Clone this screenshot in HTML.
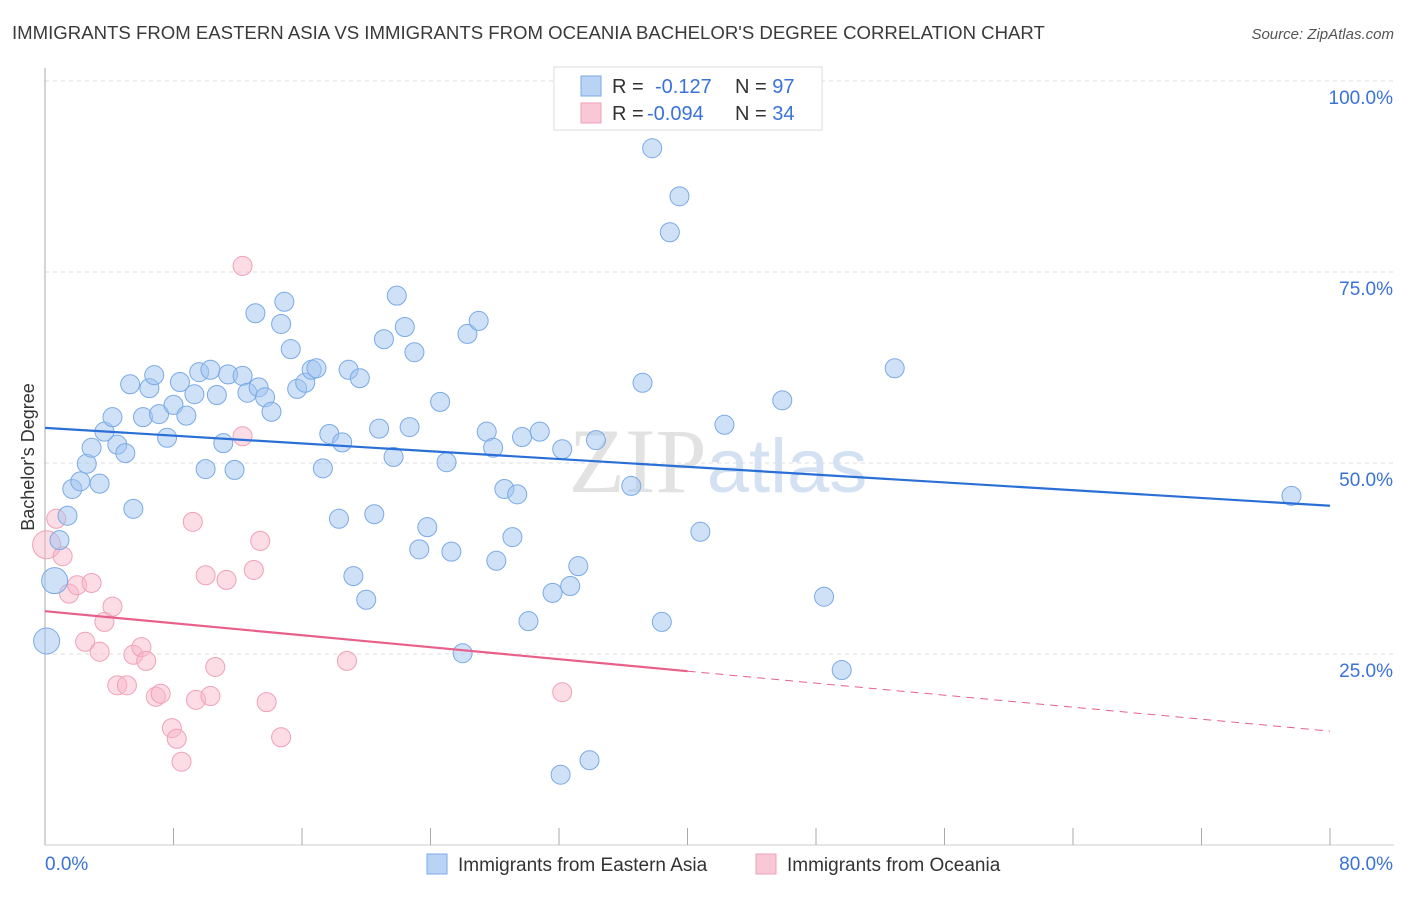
<!DOCTYPE html>
<html><head><meta charset="utf-8"><style>
body{margin:0;background:#fff;font-family:"Liberation Sans",sans-serif;}
</style></head><body>
<svg id="c" width="1406" height="892" xmlns="http://www.w3.org/2000/svg">
<text x="12" y="39" font-size="18.6" fill="#3a3a3a">IMMIGRANTS FROM EASTERN ASIA VS IMMIGRANTS FROM OCEANIA BACHELOR'S DEGREE CORRELATION CHART</text>
<text x="1394" y="39" font-size="15" fill="#555" text-anchor="end" font-style="italic">Source: ZipAtlas.com</text>
<g id="grid"></g>
<text x="718" y="492" font-size="92" fill="#e2e2e2" text-anchor="middle" font-family="Liberation Serif,serif">ZIP<tspan font-family="Liberation Sans,sans-serif" fill="#d3e1f3" font-size="76">atlas</tspan></text>
<g id="pts"></g>
<g id="lines"></g>
<text transform="translate(34,457) rotate(-90)" font-size="18" fill="#333" text-anchor="middle">Bachelor's Degree</text>
<g>
<rect x="554" y="67" width="268" height="63" fill="#fff" stroke="#ddd"/>
<rect x="581" y="76" width="20" height="20" fill="#b9d3f5" stroke="#7aaae6"/>
<rect x="581" y="103" width="20" height="20" fill="#f9c8d6" stroke="#f0a0b8"/>
<text x="612" y="93" font-size="20" fill="#333">R = <tspan x="655" fill="#3a72d8">-0.127</tspan><tspan x="735" fill="#333">N = </tspan><tspan fill="#3a72d8">97</tspan></text>
<text x="612" y="120" font-size="20" fill="#333">R = <tspan x="647" fill="#3a72d8">-0.094</tspan><tspan x="735" fill="#333">N = </tspan><tspan fill="#3a72d8">34</tspan></text>
</g>
<g>
<rect x="427" y="854" width="20" height="20" fill="#b9d3f5" stroke="#7aaae6"/>
<text x="458" y="871" font-size="19" fill="#333">Immigrants from Eastern Asia</text>
<rect x="756" y="854" width="20" height="20" fill="#f9c8d6" stroke="#f0a0b8"/>
<text x="787" y="871" font-size="19" fill="#333">Immigrants from Oceania</text>
</g>
</svg>
<script>
const yTicks=[25,50,75,100];
const yTickLabels=["25.0%","50.0%","75.0%","100.0%"];
const xTicks=[0,8,16,24,32,40,48,56,64,72,80];
const xEndLabels=["0.0%","80.0%"];
const blueX=[0.1,0.6,0.9,1.4,1.7,2.2,2.6,2.9,3.4,3.7,4.2,4.5,5.0,5.5,5.3,6.1,6.5,6.8,7.1,7.6,8.0,8.4,8.8,9.3,9.6,10.0,10.3,10.7,11.1,11.4,11.8,12.3,12.6,13.1,13.3,13.7,14.1,14.7,14.9,15.3,15.7,16.2,16.6,16.9,17.3,17.7,18.3,18.5,18.9,19.2,19.6,20.0,20.5,20.8,21.1,21.7,21.9,22.4,22.7,23.0,23.3,23.8,24.6,25.0,25.3,26.0,26.3,27.0,27.5,27.9,28.1,28.6,29.1,29.4,29.7,30.1,30.8,31.6,32.2,32.1,32.7,33.2,33.9,34.3,36.5,37.2,37.8,38.4,38.9,39.5,40.8,42.3,45.9,48.5,49.6,52.9,77.6];
const blueY=[26.7,34.6,39.9,43.1,46.6,47.6,49.9,52.0,47.3,54.1,56.0,52.4,51.3,44.0,60.3,56.0,59.8,61.5,56.4,53.3,57.6,60.6,56.2,59.0,61.9,49.2,62.2,58.9,52.6,61.6,49.1,61.4,59.2,69.6,59.9,58.6,56.7,68.2,71.1,64.9,59.7,60.5,62.2,62.4,49.3,53.8,42.7,52.7,62.2,35.2,61.1,32.1,43.3,54.5,66.2,50.8,71.9,67.8,54.7,64.5,38.7,41.6,58.0,50.1,38.4,25.1,66.9,68.6,54.1,52.0,37.2,46.6,40.3,45.9,53.4,29.3,54.1,33.0,51.8,9.2,33.9,36.5,11.1,53.0,47.0,60.5,91.2,29.2,80.2,84.9,41.0,55.0,58.2,32.5,22.9,62.4,45.7];
const pinkX=[0.1,0.7,1.1,1.5,2.0,2.9,2.5,3.4,3.7,4.2,4.5,5.1,5.5,6.0,6.3,6.9,7.2,7.9,8.2,8.5,9.2,9.4,10.0,10.3,10.6,11.3,12.3,12.3,13.0,13.4,13.8,14.7,18.8,32.2];
const pinkY=[39.3,42.7,37.8,32.9,34.0,34.3,26.6,25.3,29.2,31.2,20.9,20.9,24.9,25.9,24.1,19.4,19.8,15.3,13.9,10.9,42.3,19.0,35.3,19.5,23.3,34.7,75.8,53.5,36.0,39.8,18.7,14.1,24.1,20.0];
const blueTrend=[54.6,44.4];
const pinkTrend=[30.6,14.9];
const X=v=>45+v/80*1285, Y=v=>845-v/100*764;
const NS="http://www.w3.org/2000/svg";
function mk(tag,attrs,parent){const e=document.createElementNS(NS,tag);for(const k in attrs)e.setAttribute(k,attrs[k]);parent.appendChild(e);return e;}
const grid=document.getElementById('grid');
yTicks.forEach((t,i)=>{
 const l=mk('line',{x1:45,x2:1394,y1:Y(t),y2:Y(t),stroke:'#ddd','stroke-dasharray':'4,4'},grid);
 
 
 const tx=mk('text',{x:1393,y:Y(t)+23,'font-size':19,fill:'#3a72d8','text-anchor':'end'},grid);
 tx.textContent=yTickLabels[i];
 
 
});
const ax=mk('line',{x1:45,x2:45,y1:68,y2:845,stroke:'#aaa'},grid);


const bx=mk('line',{x1:45,x2:1394,y1:845,y2:845,stroke:'#ccc'},grid);


xTicks.forEach(t=>{
 const l=mk('line',{x1:X(t),x2:X(t),y1:828,y2:845,stroke:'#aaa'},grid);
 
 
});
const xl0=mk('text',{x:45,y:870,'font-size':19,fill:'#3a72d8'},grid);xl0.textContent=xEndLabels[0];


const xl1=mk('text',{x:1393,y:870,'font-size':19,fill:'#3a72d8','text-anchor':'end'},grid);xl1.textContent=xEndLabels[1];


const pts=document.getElementById('pts');
pinkX.forEach((v,i)=>{
 const c=mk('circle',{cx:X(v),cy:Y(pinkY[i]),r:i==0?14:9.5,fill:'rgba(248,180,200,0.45)',stroke:'#f0a0b8','stroke-width':1},pts);
 
 
});
blueX.forEach((v,i)=>{
 const c=mk('circle',{cx:X(v),cy:Y(blueY[i]),r:i<2?13:9.5,fill:'rgba(160,196,240,0.5)',stroke:'#7aaae6','stroke-width':1},pts);
 
 
});
const lines=document.getElementById('lines');
const bl=mk('line',{x1:X(0),y1:Y(blueTrend[0]),x2:X(80),y2:Y(blueTrend[1]),stroke:'#2a6fd6','stroke-width':2.2},lines);


const pm=pinkTrend[0]+(pinkTrend[1]-pinkTrend[0])*0.5;
const pl=mk('line',{x1:X(0),y1:Y(pinkTrend[0]),x2:X(40),y2:Y(pm),stroke:'#e8608a','stroke-width':2.2},lines);


const pd=mk('line',{x1:X(40),y1:Y(pm),x2:X(80),y2:Y(pinkTrend[1]),stroke:'#e8608a','stroke-width':1,'stroke-dasharray':'8,6'},lines);


</script>
</body></html>
